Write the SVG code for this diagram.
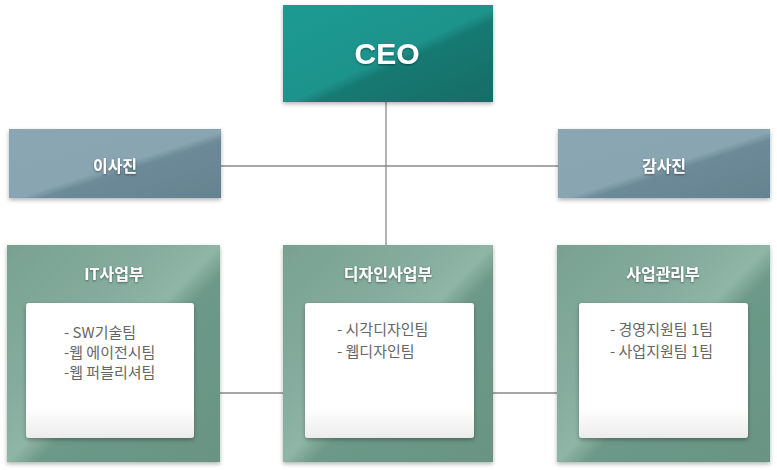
<svg xmlns="http://www.w3.org/2000/svg" width="777" height="470" viewBox="0 0 777 470">
<defs>
<linearGradient id="gCeo" x1="0" y1="0" x2="1" y2="1">
<stop offset="0" stop-color="#1f9b93"/>
<stop offset="0.52" stop-color="#1c938b"/>
<stop offset="0.58" stop-color="#187a72"/>
<stop offset="1" stop-color="#166c66"/>
</linearGradient>
<linearGradient id="gBoard" x1="0" y1="0" x2="1" y2="1">
<stop offset="0" stop-color="#8aa6b2"/>
<stop offset="0.52" stop-color="#89a5b1"/>
<stop offset="0.58" stop-color="#6c8a98"/>
<stop offset="1" stop-color="#64828f"/>
</linearGradient>
<linearGradient id="gDept" x1="0" y1="0" x2="1" y2="1">
<stop offset="0" stop-color="#79a191"/>
<stop offset="0.35" stop-color="#85ac9e"/>
<stop offset="0.5" stop-color="#8fb5a7"/>
<stop offset="0.57" stop-color="#6c9989"/>
<stop offset="1" stop-color="#699484"/>
</linearGradient>
<linearGradient id="gInner" x1="0" y1="0" x2="0" y2="1">
<stop offset="0" stop-color="#ffffff"/>
<stop offset="0.78" stop-color="#ffffff"/>
<stop offset="1" stop-color="#ececec"/>
</linearGradient>
<filter id="sh" x="-10%" y="-10%" width="120%" height="125%">
<feDropShadow dx="0" dy="2" stdDeviation="2" flood-color="#000" flood-opacity="0.3"/>
</filter>
<filter id="tsh" x="-10%" y="-20%" width="120%" height="150%">
<feDropShadow dx="0" dy="1" stdDeviation="1" flood-color="#000" flood-opacity="0.45"/>
</filter>
</defs>
<style>
.conn { stroke: #8a8a8a; stroke-width: 1.3; fill: none; }
.title { font-family: "Noto Sans CJK KR", "Noto Sans", sans-serif; font-weight: bold; fill: #ffffff; text-anchor: middle; }
.item { font-family: "Noto Sans CJK KR", "Noto Sans", sans-serif; font-size: 15px; fill: #666666; }
.inner { fill: url(#gInner); filter: url(#sh); }
</style>
<rect width="777" height="470" fill="#ffffff"/>
<g id="connectors">
<line class="conn" x1="386" y1="102" x2="386" y2="245"/>
<line class="conn" x1="221" y1="166" x2="558" y2="166"/>
<line class="conn" x1="220" y1="393" x2="283" y2="393"/>
<line class="conn" x1="493" y1="393" x2="557" y2="393"/>
</g>
<g id="ceo">
<rect x="283" y="5" width="210" height="97" fill="url(#gCeo)" filter="url(#sh)"/>
<text x="387" y="64" class="title" style="font-family: 'Liberation Sans', Arial, sans-serif; font-size: 30px;" filter="url(#tsh)">CEO</text>
</g>
<g id="board">
<rect x="9" y="129" width="212" height="69" fill="url(#gBoard)" filter="url(#sh)"/>
<text x="115" y="172" class="title" font-size="16" filter="url(#tsh)">이사진</text>
</g>
<g id="audit">
<rect x="558" y="129" width="212" height="69" fill="url(#gBoard)" filter="url(#sh)"/>
<text x="664" y="172" class="title" font-size="16" filter="url(#tsh)">감사진</text>
</g>
<g id="it">
<rect x="7" y="245" width="213" height="217" fill="url(#gDept)" filter="url(#sh)"/>
<text x="114" y="280" class="title" font-size="16" filter="url(#tsh)">IT사업부</text>
<rect x="26" y="303" width="168" height="135" rx="3" class="inner"/>
<text x="64" y="338" class="item">- SW기술팀</text>
<text x="64" y="358" class="item">-웹 에이전시팀</text>
<text x="64" y="378" class="item">-웹 퍼블리셔팀</text>
</g>
<g id="design">
<rect x="283" y="245" width="210" height="217" fill="url(#gDept)" filter="url(#sh)"/>
<text x="388" y="280" class="title" font-size="16" filter="url(#tsh)">디자인사업부</text>
<rect x="305" y="303" width="169" height="135" rx="3" class="inner"/>
<text x="337" y="335" class="item">- 시각디자인팀</text>
<text x="337" y="357" class="item">- 웹디자인팀</text>
</g>
<g id="biz">
<rect x="557" y="245" width="213" height="217" fill="url(#gDept)" filter="url(#sh)"/>
<text x="663" y="280" class="title" font-size="16" filter="url(#tsh)">사업관리부</text>
<rect x="579" y="303" width="169" height="135" rx="3" class="inner"/>
<text x="610" y="335" class="item">- 경영지원팀 1팀</text>
<text x="610" y="357" class="item">- 사업지원팀 1팀</text>
</g>
</svg>
